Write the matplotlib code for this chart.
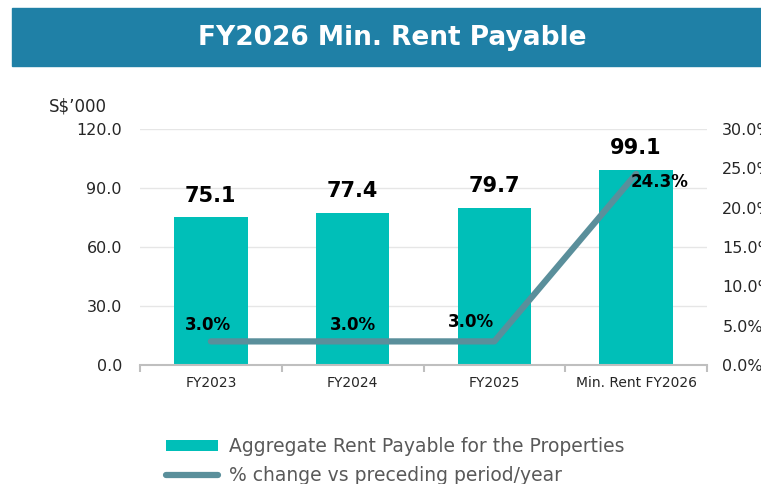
import matplotlib.pyplot as plt
import matplotlib.patches as patches
import numpy as np

plt.rcParams['font.family'] = ['DejaVu Sans']

# data
categories = ['FY2023', 'FY2024', 'FY2025', 'Min. Rent FY2026']
rent = [75.1, 77.4, 79.7, 99.1]
pct_change = [3.0, 3.0, 3.0, 24.3]

bar_color = '#00BFB8'
line_color = '#5A8F9B'
text_grey = '#595959'

fig = plt.figure(figsize=(7.61, 4.84), dpi=100)

# title banner
banner = patches.Rectangle((12 / 761, 1 - 66 / 484), 1, 58 / 484,
                           transform=fig.transFigure, color='#1F80A6', zorder=0)
fig.patches.append(banner)
fig.text(392 / 761, 1 - 38 / 484, 'FY2026 Min. Rent Payable', color='white',
         fontsize=19, fontweight='bold', ha='center', va='center')

ax = fig.add_axes([140 / 761, 1 - 365 / 484, 567 / 761, 236 / 484])
x = np.arange(len(categories))
ax.bar(x, rent, width=0.52, color=bar_color, zorder=2, label='Aggregate Rent Payable for the Properties')
ax.set_xlim(-0.5, 3.5)
ax.set_ylim(0, 120)
ax.set_yticks([0, 30, 60, 90, 120])
ax.set_yticklabels(['%.1f' % v for v in [0, 30, 60, 90, 120]], fontsize=11.5, color='#262626')
ax.yaxis.grid(True, color='#E6E6E6', lw=1, zorder=0)
ax.set_axisbelow(True)
for s in ['top', 'left', 'right']:
    ax.spines[s].set_visible(False)
ax.spines['bottom'].set_color('#BFBFBF')
ax.spines['bottom'].set_linewidth(1.5)
ax.tick_params(axis='y', length=0, pad=13)
ax.set_xticks(x)
ax.set_xticklabels(categories, fontsize=10, color='#262626')
ax.set_xticks(np.arange(-0.5, 4, 1), minor=True)
ax.tick_params(axis='x', which='major', length=0, pad=8)
ax.tick_params(axis='x', which='minor', length=5, color='#BFBFBF', width=1.5)

for xi, v in zip(x, rent):
    ax.text(xi, v + 6, '%.1f' % v, ha='center', va='bottom', fontsize=15, fontweight='bold', color='black')

fig.text(107 / 761, 1 - 106 / 484, 'S$\u2019000', ha='right', va='center', fontsize=12, color='#262626')

ax2 = ax.twinx()
ax2.plot(x, pct_change, color=line_color, lw=4.5, solid_capstyle='round', zorder=3,
         label='% change vs preceding period/year')
ax2.set_ylim(0, 30)
ax2.set_yticks([0, 5, 10, 15, 20, 25, 30])
ax2.set_yticklabels(['%.1f%%' % v for v in [0, 5, 10, 15, 20, 25, 30]], fontsize=11.5, color='#262626')
ax2.tick_params(axis='y', length=0, pad=11)
for s in ['top', 'left', 'right', 'bottom']:
    ax2.spines[s].set_visible(False)

offsets = [(-2, 12), (0, 12), (-17, 14), (17, -6)]
for xi, v, off in zip(x, pct_change, offsets):
    ax2.annotate('%.1f%%' % v, (xi, v), xytext=off, textcoords='offset points',
                 ha='center', va='center', fontsize=12, fontweight='bold', color='black')

h1, l1 = ax.get_legend_handles_labels()
h2, l2 = ax2.get_legend_handles_labels()
leg = fig.legend(h1 + h2, l1 + l2, loc='upper left', bbox_to_anchor=(157 / 761, 1 - 428 / 484),
                 frameon=False, fontsize=13.5, handlelength=2.75, handleheight=0.5,
                 labelspacing=0.5, handletextpad=0.6, borderpad=0)
for t in leg.get_texts():
    t.set_color(text_grey)

fig.savefig('out.png', dpi=100)
